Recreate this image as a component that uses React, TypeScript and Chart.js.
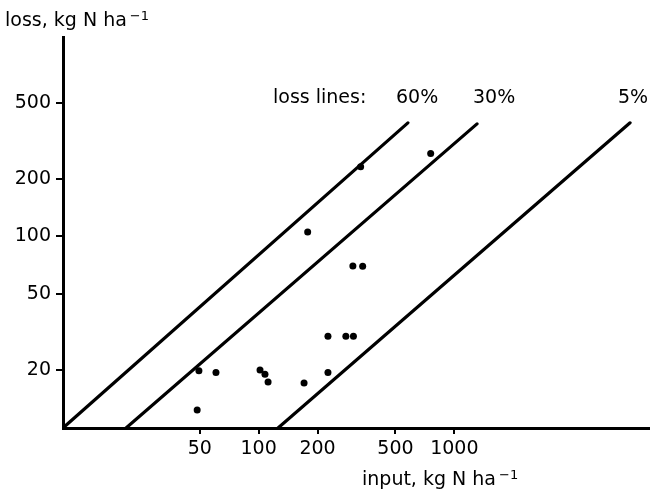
import React, { useEffect, useRef } from "react";
import { Chart, registerables } from "chart.js";

Chart.register(...registerables);

// Axis ticks
const xTicks = [50, 100, 200, 500, 1000];
const yTicks = [20, 50, 100, 200, 500];

// Observed points: N input vs N loss (kg N / ha)
const pointInput = [757, 332, 178, 303, 340, 226, 279, 305, 49.5, 60.5, 101.6, 107.7, 111.7, 226, 170.6, 48.5];
const pointLoss = [271, 231, 105.6, 70.2, 70, 30.1, 30.1, 30.1, 19.9, 19.5, 20.1, 19.1, 17.4, 19.5, 17.2, 12.4];

// Loss lines (as drawn in the figure)
const lineNames = ["60%", "30%", "5%"];
const lineInputStart = [10, 21, 125.6];
const lineLossStart = [10, 10, 10];
const lineInputEnd = [579, 1306, 7910];
const lineLossEnd = [392, 387, 392];

const FONT = "'DejaVu Sans', sans-serif";

const textPlugin = {
  id: "figureText",
  afterDraw(chart: any) {
    const ctx = chart.ctx as CanvasRenderingContext2D;
    ctx.save();
    ctx.fillStyle = "#000";
    ctx.textBaseline = "alphabetic";
    ctx.textAlign = "left";
    const drawUnit = (prefix: string, x: number, y: number) => {
      ctx.font = `19px ${FONT}`;
      ctx.fillText(prefix, x, y);
      const w = ctx.measureText(prefix).width;
      ctx.font = `13px ${FONT}`;
      ctx.fillText("\u22121", x + w + 3, y - 6);
    };
    drawUnit("loss, kg N ha", 5, 26);
    drawUnit("input, kg N ha", 362, 485);
    ctx.font = `19px ${FONT}`;
    ctx.fillText("loss lines:", 273, 103);
    const labelX = [396, 473, 618];
    lineNames.forEach((n, i) => ctx.fillText(n, labelX[i], 103));
    ctx.restore();
  },
};

export default function App() {
  const ref = useRef<HTMLCanvasElement | null>(null);
  useEffect(() => {
    if (!ref.current) return;
    const points = pointInput.map((x, i) => ({ x, y: pointLoss[i] }));
    const lines = lineNames.map((name, i) => ({
      label: name,
      data: [
        { x: lineInputStart[i], y: lineLossStart[i] },
        { x: lineInputEnd[i], y: lineLossEnd[i] },
      ],
      showLine: true,
      borderColor: "#000",
      borderWidth: 3.2,
      pointRadius: 0,
      borderCapStyle: "round" as const,
    }));
    const chart = new Chart(ref.current, {
      type: "scatter",
      data: {
        datasets: [
          {
            label: "sites",
            data: points,
            backgroundColor: "#000",
            borderColor: "#000",
            pointRadius: 3.5,
            borderWidth: 0,
          },
          ...lines,
        ],
      },
      options: {
        animation: false,
        responsive: false,
        devicePixelRatio: 1,
        layout: { autoPadding: false, padding: { top: 37, left: 0, right: 0, bottom: 0 } },
        plugins: { legend: { display: false }, tooltip: { enabled: false } },
        scales: {
          x: {
            type: "logarithmic",
            min: 10,
            max: 10000,
            afterBuildTicks: (s: any) => {
              s.ticks = xTicks.map((v) => ({ value: v }));
            },
            afterFit: (s: any) => {
              s.height = 64;
              s.paddingLeft = 0;
              s.paddingRight = 0;
            },
            border: { display: true, color: "#000", width: 3 },
            grid: { display: true, drawOnChartArea: false, drawTicks: true, tickLength: 6, color: "#000", lineWidth: 2 },
            ticks: {
              autoSkip: false,
              maxRotation: 0,
              color: "#000",
              padding: 4,
              font: { family: FONT, size: 19 },
              callback: (v: any) => String(v),
            },
          },
          y: {
            type: "logarithmic",
            min: 10,
            max: 1100,
            afterBuildTicks: (s: any) => {
              s.ticks = yTicks.map((v) => ({ value: v }));
            },
            afterFit: (s: any) => {
              s.width = 63;
              s.paddingTop = 0;
              s.paddingBottom = 0;
            },
            border: { display: true, color: "#000", width: 3 },
            grid: { display: true, drawOnChartArea: false, drawTicks: true, tickLength: 7, color: "#000", lineWidth: 2 },
            ticks: {
              autoSkip: false,
              color: "#000",
              padding: 5,
              font: { family: FONT, size: 19 },
              callback: (v: any) => String(v),
            },
          },
        },
      },
      plugins: [textPlugin],
    });
    return () => chart.destroy();
  }, []);
  return (
    <div style={{ position: "absolute", left: 0, top: 0, width: 650, height: 492, background: "#fff", overflow: "hidden" }}>
      <canvas ref={ref} width={650} height={492} style={{ display: "block", width: 650, height: 492 }} />
    </div>
  );
}
